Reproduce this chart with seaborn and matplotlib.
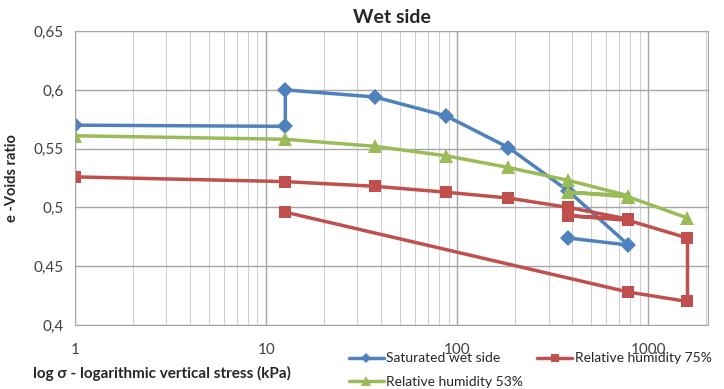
import numpy as np
import pandas as pd
import matplotlib
matplotlib.use("Agg")
import matplotlib.pyplot as plt
import seaborn as sns
from matplotlib.ticker import FuncFormatter, LogLocator, FixedLocator

# data
sat_x = [1, 12.6, 12.6, 37, 87, 185, 381, 786, 381]
sat_y = [0.570, 0.569, 0.600, 0.594, 0.578, 0.551, 0.514, 0.468, 0.474]

rh75_x = [1, 12.6, 37, 87, 185, 381, 786, 381, 786, 1600, 1600, 786, 12.6]
rh75_y = [0.526, 0.522, 0.518, 0.513, 0.508, 0.500, 0.490, 0.493, 0.489, 0.474, 0.420, 0.428, 0.496]

rh53_x = [1, 12.6, 37, 87, 185, 381, 786, 381, 786, 1600]
rh53_y = [0.561, 0.558, 0.552, 0.544, 0.534, 0.523, 0.510, 0.513, 0.509, 0.491]

labels = ["Saturated wet side", "Relative humidity 75%", "Relative humidity 53%"]
colors = ["#4F81BD", "#C0504D", "#9BBB59"]

sns.set_style("white")
plt.rcParams['font.family'] = ['Lato', 'DejaVu Sans']

fig = plt.figure(figsize=(7.24, 3.89), dpi=100)
ax = fig.add_axes([0.1036, 0.1645, 0.8744, 0.7555])

ax.set_xscale("log")
ax.set_xlim(1, 2050)
ax.set_ylim(0.4, 0.65)
ax.xaxis.set_major_locator(FixedLocator([1, 10, 100, 1000]))
ax.xaxis.set_minor_locator(LogLocator(base=10, subs=np.arange(2, 10)))
ax.set_yticks([0.4, 0.45, 0.5, 0.55, 0.6, 0.65])
ax.grid(True, which="major", color="#a6a6a6", lw=1)
ax.grid(True, which="minor", axis="x", color="#d0d0d0", lw=0.8)
ax.set_axisbelow(True)

df_sat = pd.DataFrame({"x": sat_x, "y": sat_y})
df_75 = pd.DataFrame({"x": rh75_x, "y": rh75_y})
df_53 = pd.DataFrame({"x": rh53_x, "y": rh53_y})

sns.lineplot(data=df_sat, x="x", y="y", sort=False, estimator=None, ax=ax,
             color=colors[0], lw=2.5, marker="D", markersize=8, markeredgewidth=0,
             label=labels[0])
sns.lineplot(data=df_53, x="x", y="y", sort=False, estimator=None, ax=ax,
             color=colors[2], lw=2.5, marker="^", markersize=10, markeredgewidth=0,
             label=labels[2])
sns.lineplot(data=df_75, x="x", y="y", sort=False, estimator=None, ax=ax,
             color=colors[1], lw=2.5, marker="s", markersize=9, markeredgewidth=0,
             label=labels[1])

ax.yaxis.set_major_formatter(FuncFormatter(lambda v, p: ("%g" % round(v, 2)).replace(".", ",")))
ax.xaxis.set_major_formatter(FuncFormatter(lambda v, p: "%d" % v))
ax.tick_params(axis="both", which="both", length=0, labelsize=11, colors="#404040")
ax.tick_params(axis="x", pad=13)
ax.tick_params(axis="y", pad=8)

for s in ax.spines.values():
    s.set_color("#a6a6a6")

ax.set_title("Wet side", fontsize=14, fontweight="bold", pad=6)
ax.set_ylabel("e -Voids ratio", fontsize=10.5, fontweight="bold")
ax.yaxis.set_label_coords(-0.088, 0.5)
ax.set_xlabel("log σ - logarithmic vertical stress (kPa)", fontsize=11, fontweight="bold")
ax.xaxis.set_label_coords(0.137, -0.14)

h, l = ax.get_legend_handles_labels()
ax.legend_.remove()
fig.legend(h, l, loc="upper left", bbox_to_anchor=(0.482, 0.094), ncol=2,
           frameon=False, fontsize=10, handlelength=2.5, handletextpad=0.2,
           columnspacing=1.0, labelspacing=0.8, borderaxespad=0, borderpad=0,
           markerscale=0.7)

fig.savefig("out.png", dpi=100)
